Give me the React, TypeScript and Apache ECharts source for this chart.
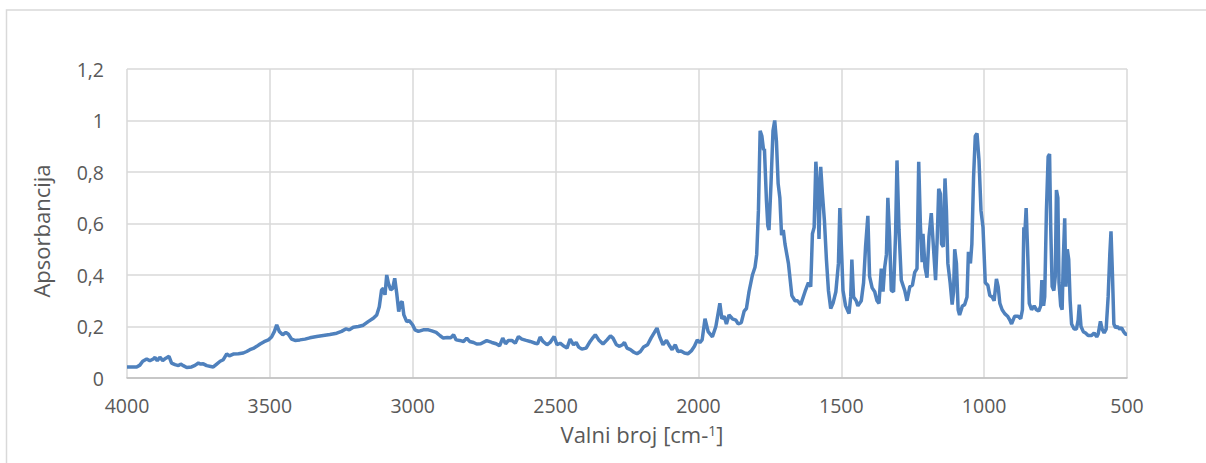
import React, { useEffect, useRef } from "react";
import * as echarts from "echarts";

// 4000–2000 cm-1 region
const highWavenumbers = [
  4000, 3984, 3966, 3955, 3945, 3931, 3920, 3908, 3902, 3894, 3885, 3875, 3864, 3853, 3844, 3832, 3820, 3812, 3803, 3791,
  3774, 3762, 3750, 3742, 3733, 3721, 3707, 3698, 3686, 3674, 3663, 3651, 3642, 3628, 3610, 3593, 3581, 3570, 3558, 3546,
  3534, 3520, 3505, 3494, 3484, 3476, 3467, 3455, 3444, 3435, 3424, 3412, 3395, 3377, 3360, 3336, 3313, 3290, 3266, 3249,
  3233, 3222, 3208, 3190, 3173, 3156, 3138, 3126, 3117, 3109, 3103, 3097, 3091, 3085, 3077, 3070, 3063, 3056, 3049, 3043,
  3037, 3031, 3021, 3012, 3000, 2992, 2980, 2963, 2945, 2933, 2918, 2904, 2893, 2879, 2867, 2857, 2848, 2836, 2822, 2811,
  2801, 2787, 2776, 2762, 2741, 2723, 2708, 2696, 2685, 2675, 2665, 2653, 2641, 2630, 2618, 2603, 2589, 2571, 2563, 2554,
  2544, 2530, 2519, 2505, 2495, 2484, 2470, 2460, 2449, 2437, 2428, 2419, 2408, 2393, 2379, 2369, 2361, 2349, 2334, 2320,
  2308, 2299, 2287, 2276, 2266, 2259, 2250, 2238, 2226, 2215, 2203, 2192, 2178, 2166, 2154, 2145, 2136, 2124, 2112, 2100,
  2092, 2081, 2072, 2061, 2049, 2037, 2025, 2014, 2004,
];
const highAbsorbance = [
  0.043, 0.043, 0.043, 0.05, 0.065, 0.074, 0.067, 0.074, 0.08, 0.067, 0.081, 0.068, 0.077, 0.084, 0.058, 0.052, 0.048, 0.054, 0.048, 0.041,
  0.043, 0.049, 0.058, 0.054, 0.055, 0.048, 0.045, 0.043, 0.054, 0.065, 0.071, 0.094, 0.086, 0.093, 0.094, 0.097, 0.103, 0.11, 0.115, 0.123,
  0.132, 0.141, 0.148, 0.159, 0.181, 0.206, 0.181, 0.168, 0.177, 0.17, 0.151, 0.146, 0.148, 0.151, 0.156, 0.161, 0.165, 0.169, 0.174, 0.181,
  0.191, 0.187, 0.197, 0.2, 0.205, 0.219, 0.232, 0.245, 0.277, 0.342, 0.348, 0.323, 0.4, 0.368, 0.342, 0.348, 0.387, 0.329, 0.258, 0.29,
  0.297, 0.245, 0.219, 0.223, 0.206, 0.187, 0.181, 0.187, 0.187, 0.183, 0.177, 0.164, 0.155, 0.157, 0.156, 0.168, 0.148, 0.146, 0.142, 0.155,
  0.142, 0.138, 0.132, 0.133, 0.145, 0.138, 0.133, 0.125, 0.155, 0.133, 0.146, 0.146, 0.135, 0.161, 0.151, 0.146, 0.142, 0.135, 0.133, 0.159,
  0.142, 0.129, 0.138, 0.161, 0.129, 0.135, 0.123, 0.116, 0.151, 0.129, 0.138, 0.12, 0.112, 0.116, 0.142, 0.157, 0.168, 0.148, 0.132, 0.148,
  0.164, 0.155, 0.129, 0.123, 0.129, 0.138, 0.116, 0.11, 0.1, 0.094, 0.103, 0.12, 0.129, 0.155, 0.177, 0.194, 0.161, 0.129, 0.146, 0.123,
  0.11, 0.129, 0.103, 0.105, 0.097, 0.094, 0.105, 0.123, 0.148,
];

// 2000–500 cm-1 region
const lowWavenumbers = [
  1995, 1987, 1977, 1966, 1951, 1939, 1925, 1918, 1910, 1902, 1893, 1881, 1869, 1861, 1850, 1840, 1832, 1823, 1811, 1802,
  1796, 1790, 1784, 1778, 1772, 1769, 1762, 1757, 1753, 1746, 1739, 1733, 1727, 1721, 1715, 1709, 1703, 1697, 1685, 1673,
  1662, 1653, 1642, 1627, 1615, 1607, 1601, 1595, 1589, 1583, 1578, 1572, 1566, 1559, 1552, 1545, 1537, 1529, 1519, 1510,
  1505, 1500, 1494, 1485, 1473, 1467, 1463, 1457, 1448, 1442, 1430, 1422, 1415, 1407, 1401, 1392, 1383, 1375, 1368, 1360,
  1354, 1348, 1342, 1337, 1331, 1325, 1317, 1310, 1305, 1298, 1290, 1278, 1270, 1260, 1251, 1243, 1235, 1229, 1223, 1217,
  1214, 1207, 1200, 1193, 1185, 1177, 1170, 1164, 1159, 1153, 1149, 1143, 1137, 1132, 1127, 1119, 1112, 1107, 1103, 1097,
  1091, 1086, 1076, 1068, 1060, 1055, 1048, 1043, 1037, 1031, 1025, 1018, 1011, 1004, 996, 987, 980, 972, 965, 957,
  951, 945, 937, 928, 918, 910, 904, 893, 881, 872, 866, 861, 858, 853, 848, 842, 834, 825, 817, 809,
  802, 798, 792, 788, 782, 776, 771, 767, 762, 756, 751, 747, 742, 738, 732, 727, 723, 718, 714, 709,
  704, 699, 694, 685, 677, 671, 667, 661, 653, 645, 636, 624, 615, 606, 601, 593, 587, 580, 573, 566,
  560, 556, 551, 546, 540, 533, 526, 519, 512, 505, 500,
];
const lowAbsorbance = [
  0.138, 0.148, 0.23, 0.18, 0.16, 0.2, 0.29, 0.23, 0.24, 0.21, 0.245, 0.23, 0.225, 0.21, 0.215, 0.26, 0.27, 0.335, 0.4, 0.43,
  0.48, 0.65, 0.96, 0.94, 0.885, 0.89, 0.69, 0.59, 0.575, 0.755, 0.96, 1.0, 0.92, 0.755, 0.7, 0.555, 0.575, 0.52, 0.445, 0.32,
  0.3, 0.3, 0.285, 0.335, 0.37, 0.355, 0.56, 0.585, 0.84, 0.74, 0.54, 0.82, 0.715, 0.61, 0.46, 0.34, 0.27, 0.29, 0.335, 0.445,
  0.66, 0.52, 0.34, 0.28, 0.25, 0.315, 0.46, 0.315, 0.3, 0.28, 0.3, 0.37, 0.51, 0.63, 0.395, 0.35, 0.335, 0.3, 0.29, 0.425,
  0.335, 0.43, 0.48, 0.7, 0.55, 0.34, 0.335, 0.56, 0.845, 0.575, 0.38, 0.34, 0.3, 0.355, 0.36, 0.41, 0.425, 0.84, 0.59, 0.45,
  0.56, 0.43, 0.39, 0.55, 0.64, 0.5, 0.38, 0.55, 0.735, 0.715, 0.52, 0.51, 0.775, 0.65, 0.445, 0.37, 0.285, 0.335, 0.5, 0.445,
  0.265, 0.245, 0.28, 0.285, 0.315, 0.49, 0.445, 0.52, 0.78, 0.94, 0.95, 0.845, 0.65, 0.585, 0.37, 0.36, 0.32, 0.315, 0.3, 0.385,
  0.355, 0.29, 0.265, 0.25, 0.24, 0.225, 0.21, 0.24, 0.24, 0.23, 0.265, 0.585, 0.55, 0.66, 0.5, 0.29, 0.265, 0.28, 0.265, 0.26,
  0.28, 0.38, 0.28, 0.315, 0.65, 0.86, 0.87, 0.585, 0.355, 0.34, 0.395, 0.73, 0.7, 0.37, 0.28, 0.265, 0.46, 0.62, 0.355, 0.5,
  0.46, 0.3, 0.21, 0.19, 0.19, 0.225, 0.285, 0.2, 0.18, 0.175, 0.165, 0.165, 0.175, 0.16, 0.17, 0.22, 0.19, 0.175, 0.19, 0.315,
  0.485, 0.57, 0.405, 0.21, 0.195, 0.2, 0.19, 0.195, 0.18, 0.17, 0.17,
];

const xTicks = { min: 500, max: 4000, interval: 500 };
const yTicks = { min: 0, max: 1.2, interval: 0.2 };

const FONT = "'Open Sans', 'Liberation Sans', sans-serif";
const TEXT = "#595959";
const GRID = "#d9d9d9";

export default function App() {
  const ref = useRef<HTMLDivElement>(null);

  useEffect(() => {
    document.body.style.margin = "0";
    if (!ref.current) return;
    const chart = echarts.init(ref.current, null, { renderer: "svg" });

    const wn = [...highWavenumbers, ...lowWavenumbers];
    const ab = [...highAbsorbance, ...lowAbsorbance];
    const data = wn.map((w, i) => [w, ab[i]]);

    chart.setOption({
      animation: false,
      backgroundColor: "#ffffff",
      textStyle: { fontFamily: FONT },
      grid: { left: 127, right: 79, top: 69, bottom: 85, containLabel: false, outerBoundsMode: "none" },
      xAxis: {
        type: "value",
        inverse: true,
        min: xTicks.min,
        max: xTicks.max,
        interval: xTicks.interval,
        axisLine: { show: true, lineStyle: { color: "#bfbfbf", width: 1.5 } },
        axisTick: { show: false },
        splitLine: { show: true, lineStyle: { color: GRID, width: 1.5 } },
        axisLabel: {
          color: TEXT,
          fontSize: 19.5,
          fontFamily: FONT,
          margin: 17,
          formatter: (v: number) => String(Math.round(v)),
        },
      },
      yAxis: {
        type: "value",
        min: yTicks.min,
        max: yTicks.max,
        interval: yTicks.interval,
        axisLine: { show: false },
        axisTick: { show: false },
        splitLine: { show: true, lineStyle: { color: GRID, width: 1.5 } },
        axisLabel: {
          color: TEXT,
          fontSize: 19.5,
          fontFamily: FONT,
          margin: 23,
          formatter: (v: number) => String(Math.round(v * 10) / 10).replace(".", ","),
        },
      },
      graphic: [
        {
          type: "rect",
          shape: { x: 6.5, y: 10, width: 1400, height: 800 },
          style: { fill: "none", stroke: GRID, lineWidth: 1.5 },
          silent: true,
          z: -1,
        },
        {
          type: "text",
          x: 41,
          y: 231,
          rotation: Math.PI / 2,
          style: {
            text: "Apsorbancija",
            fill: TEXT,
            fontSize: 22,
            fontFamily: FONT,
            align: "center",
            verticalAlign: "middle",
          },
        },
        {
          type: "text",
          x: 642,
          y: 433,
          style: {
            text: "{a|Valni broj [cm-}{b|1}{a|]}",
            align: "center",
            verticalAlign: "middle",
            rich: {
              a: { fontSize: 22, fontFamily: FONT, fill: TEXT, lineHeight: 24, verticalAlign: "bottom" },
              b: { fontSize: 14, fontFamily: FONT, fill: TEXT, lineHeight: 24, verticalAlign: "top", padding: [2, 0, 0, 0] },
            },
          },
        },
      ],
      series: [
        {
          type: "line",
          data,
          showSymbol: false,
          symbol: "none",
          lineStyle: { color: "#4f81bd", width: 3.5 },
          itemStyle: { color: "#4f81bd" },
          clip: true,
        },
      ],
    });

    return () => chart.dispose();
  }, []);

  return <div ref={ref} style={{ width: 1206, height: 463 }} />;
}
